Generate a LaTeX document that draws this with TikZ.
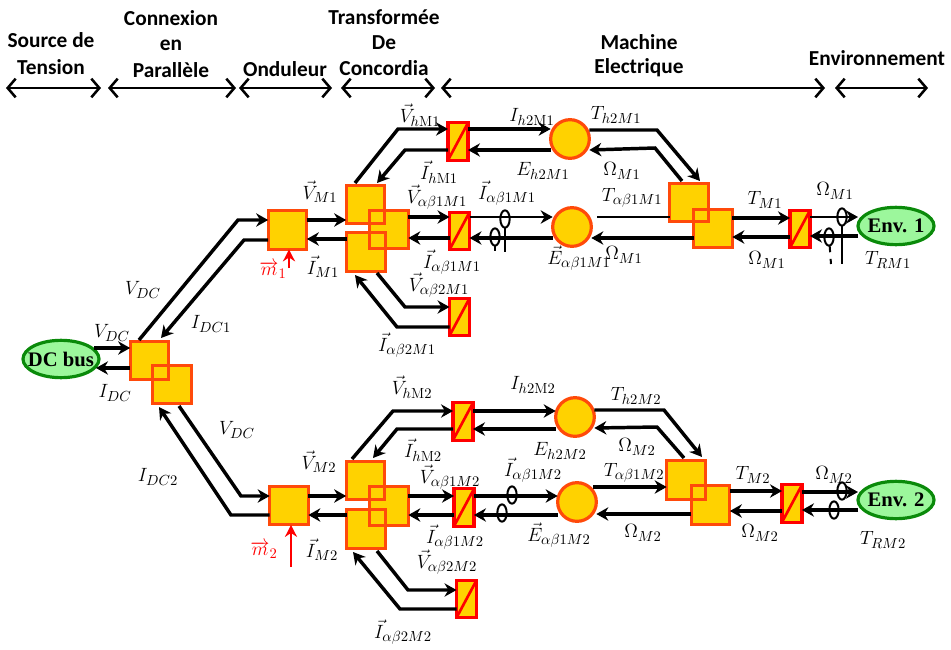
\documentclass[tikz,border=0pt]{standalone}
\usepackage{fontspec}
\usetikzlibrary{arrows.meta,shapes.geometric}
\newfontfamily\headfont{Carlito}
\newfontfamily\envfont{Liberation Serif}
\DeclareMathSizes{14}{14}{11}{9}
\definecolor{boxfill}{HTML}{FFD200}
\definecolor{boxline}{HTML}{FF4A0A}
\definecolor{envfill}{HTML}{9CF79C}
\definecolor{envline}{HTML}{0A8A0A}
\tikzset{
  x=0.75pt,y=-0.75pt,
  sq/.style={draw=boxline,fill=boxfill,line width=2.4pt,minimum width=29pt,minimum height=29pt,inner sep=0,outer sep=0},
  conv/.style={draw=red,fill=boxfill,line width=2.4pt,minimum width=15pt,minimum height=28pt,inner sep=0,outer sep=0},
  slash/.style={draw=red,line width=2pt},
  rond/.style={circle,draw=boxline,fill=boxfill,line width=2.4pt,minimum size=29pt,inner sep=0,outer sep=0},
  env/.style={ellipse,draw=envline,fill=envfill,line width=2.4pt,minimum width=57pt,minimum height=28pt,inner xsep=-5.5pt,inner ysep=0pt,outer sep=0,font=\envfont\bfseries\fontsize{15.5}{17}\selectfont},
  sens/.style={ellipse,draw=black,line width=1.5pt,minimum width=7pt,minimum height=13pt,inner sep=0,outer sep=0},
  sline/.style={black,line width=1.5pt},
  fl/.style={black,line width=2.6pt,-{Stealth[length=9pt,width=10pt]},line join=miter},
  thin fl/.style={black,line width=1.9pt,-{Stealth[length=9pt,width=10pt]}},
  redfl/.style={red,line width=1.6pt,-{Stealth[length=9pt,width=9pt]}},
  span/.style={black,line width=1.9pt,{Straight Barb[length=6pt,width=14pt,line width=1.9pt]}-{Straight Barb[length=6pt,width=14pt,line width=1.9pt]}},
  head/.style={font=\headfont\bfseries\fontsize{16}{18}\selectfont,inner sep=0},
  lab/.style={font=\fontsize{14}{16}\selectfont,inner sep=0},
  rlab/.style={lab,text=red},
}
\begin{document}
\begin{tikzpicture}
\useasboundingbox (0,0) rectangle (951,650);
% headers
\node[head] (h1a) at (51,40) {Source de};
\node[head] (h1b) at (51,67) {Tension};
\node[head] (h2a) at (171,18) {Connexion};
\node[head] (h2b) at (171,45) {en};
\node[head] (h2c) at (171,70) {Parallèle};
\node[head] (h3) at (285,69) {Onduleur};
\node[head] (h4a) at (384,17) {Transformée};
\node[head] (h4b) at (384,43) {De};
\node[head] (h4c) at (384,68) {Concordia};
\node[head] (h5a) at (639,42) {Machine};
\node[head] (h5b) at (639,68) {Electrique};
\node[head] (h6) at (877,58) {Environnement};
\coordinate (a1) at (6,88);\coordinate (a2) at (101,88);
\coordinate (b1) at (108,88);\coordinate (b2) at (236,88);
\coordinate (c1) at (239,88);\coordinate (c2) at (332,88);
\coordinate (d1) at (341,88);\coordinate (d2) at (435,88);
\coordinate (e1) at (441,88);\coordinate (e2) at (825,88);
\coordinate (f1) at (835,88);\coordinate (f2) at (928,88);
\draw[span] (a1)--(a2);\draw[span] (b1)--(b2);\draw[span] (c1)--(c2);
\draw[span] (d1)--(d2);\draw[span] (e1)--(e2);\draw[span] (f1)--(f2);
% nodes
\node[env] (dc) at (61,359) {DC bus};
\node[sq] (P) at (149.5,360.5) {};
\node[sq] (Q) at (172,384.5) {};
\draw[boxline,line width=2.4pt] (P.north west) rectangle (P.south east);
\node[sq] (inv1) at (287.5,230) {};
\node[sq] (inv2) at (289,505.5) {};
% upper group
\node[sq] (A1) at (365.5,204.5) {};
\node[sq] (C1) at (366,252) {};
\node[sq] (B1) at (389,229.5) {};
\draw[boxline,line width=2.4pt] (A1.north west) rectangle (A1.south east);
\draw[boxline,line width=2.4pt] (C1.north west) rectangle (C1.south east);
\node[conv] (ch1) at (458,141.5) {};
\node[conv] (ca1) at (459.5,231) {};
\node[conv] (cb1) at (459.5,317) {};
\node[rond] (o1) at (570,139) {};
\node[rond] (o2) at (572,227) {};
\node[sq] (D1) at (689,202.5) {};
\node[sq] (E1) at (713,228.5) {};
\draw[boxline,line width=2.4pt] (D1.north west) rectangle (D1.south east);
\node[conv] (cm1) at (800,229) {};
\node[env] (env1) at (896,226) {Env. 1};
% lower group
\node[sq] (A2) at (365.5,480.5) {};
\node[sq] (C2) at (366,529) {};
\node[sq] (B2) at (389,506) {};
\draw[boxline,line width=2.4pt] (A2.north west) rectangle (A2.south east);
\draw[boxline,line width=2.4pt] (C2.north west) rectangle (C2.south east);
\node[conv] (ch2) at (463,421.5) {};
\node[conv] (ca2) at (464,507.5) {};
\node[conv] (cb2) at (466.5,599) {};
\node[rond] (o3) at (575,417) {};
\node[rond] (o4) at (577,502) {};
\node[sq] (D2) at (686,480) {};
\node[sq] (E2) at (710.5,505) {};
\draw[boxline,line width=2.4pt] (D2.north west) rectangle (D2.south east);
\node[conv] (cm2) at (792,503.5) {};
\node[env] (env2) at (896,500) {Env. 2};
% slashes
\foreach \n in {ch1,ca1,cb1,cm1,ch2,ca2,cb2,cm2}{\draw[slash] (\n.south west)--(\n.north east);}
% DC side
\draw[fl] (94,348)--(P.west |- 0,348);
\draw[fl] (P.west |- 0,368)--(96,368);
\coordinate (k1) at (238,220);\coordinate (k2) at (244,240);
\coordinate (k3) at (241,496);\coordinate (k4) at (231,515);
\draw[fl] (139,340)--(k1)--(inv1.west |- 0,220);
\draw[fl] (inv1.west |- 0,240)--(k2)--(161,338);
\draw[fl] (179,406)--(k3)--(inv2.west |- 0,496);
\draw[fl] (inv2.west |- 0,515)--(k4)--(159,407);
\draw[fl] (inv1.east |- 0,220)--(A1.west |- 0,220);
\draw[fl] (C1.west |- 0,239)--(inv1.east |- 0,239);
\draw[fl] (inv2.east |- 0,496)--(A2.west |- 0,496);
\draw[fl] (C2.west |- 0,515)--(inv2.east |- 0,515);
\coordinate (m1s) at (289,268);\coordinate (m2s) at (291,567);
\draw[redfl] (m1s)--(inv1.south -| m1s);
\draw[redfl] (m2s)--(inv2.south -| m2s);
% transform -> converters, upper
\coordinate (u1) at (398,129);\coordinate (u2) at (405,150);\coordinate (u3) at (405,307);\coordinate (u4) at (397,327);
\draw[fl] (355,183)--(u1)--(ch1.west |- 0,129);
\draw[fl] (ch1.west |- 0,150)--(u2)--(377,183);
\draw[fl] (377,273)--(u3)--(cb1.west |- 0,307);
\draw[fl] (cb1.west |- 0,327)--(u4)--(355,275);
\draw[fl] (B1.east |- 0,217)--(ca1.west |- 0,217);
\draw[fl] (ca1.west |- 0,238)--(B1.east |- 0,238);
\draw[fl] (ch1.east |- 0,129)--(o1.west |- 0,129);
\draw[fl] (o1.west |- 0,150)--(ch1.east |- 0,150);
\draw[thin fl] (ca1.east |- 0,217)--(o2.west |- 0,217);
\draw[fl] (o2.west |- 0,238)--(ca1.east |- 0,238);
% circles -> machine, upper
\coordinate (u5) at (657,130);\coordinate (u6) at (655,148);
\draw[fl] (o1.east |- 0,130)--(u5)--(700,181);
\draw[fl] (682,181)--(u6)--(o1.east |- 0,150);
\coordinate (u7) at (597,217);
\draw[thin fl,-] (u7)--(D1.west |- 0,217);
\draw[fl] (E1.west |- 0,238)--(o2.east |- 0,238);
\draw[fl] (E1.east |- 0,218)--(cm1.west |- 0,218);
\draw[fl] (cm1.west |- 0,237)--(E1.east |- 0,237);
\draw[thin fl] (cm1.east |- 0,217)--(env1.west |- 0,217);
\draw[fl] (env1.west |- 0,236)--(cm1.east |- 0,236);
% sensors upper
\node[sens] (s1) at (505,219) {};\coordinate (s1e) at (505,252);\draw[sline] (s1)--(s1e);
\node[sens] (s2) at (495,237) {};\coordinate (s2e) at (495,251);\draw[sline] (s2)--(s2e);
\node[sens] (s3) at (842,217) {};\coordinate (s3e) at (842,264);\draw[sline] (s3)--(s3e);
\node[sens] (s4) at (829,237) {};\coordinate (s4e) at (831,264);\draw[sline,dash pattern=on 5pt off 5pt] (s4)--(s4e);
% lower
\coordinate (v1) at (393,411);\coordinate (v2) at (397,429);\coordinate (v3) at (408,590);\coordinate (v4) at (400,609);
\draw[fl] (352,459)--(v1)--(ch2.west |- 0,411);
\draw[fl] (ch2.west |- 0,429)--(v2)--(373,458);
\draw[fl] (377,551)--(v3)--(cb2.west |- 0,590);
\draw[fl] (cb2.west |- 0,609)--(v4)--(353,552);
\draw[fl] (B2.east |- 0,496)--(ca2.west |- 0,496);
\draw[fl] (ca2.west |- 0,515)--(B2.east |- 0,515);
\draw[fl] (ch2.east |- 0,411)--(o3.west |- 0,411);
\draw[fl] (o3.west |- 0,429)--(ch2.east |- 0,429);
\draw[fl] (ca2.east |- 0,496)--(o4.west |- 0,496);
\draw[fl] (o4.west |- 0,515)--(ca2.east |- 0,515);
\coordinate (v5) at (664,410);\coordinate (v6) at (657,427);
\draw[fl] (o3.east |- 0,410)--(v5)--(702,457);
\draw[fl] (684,458)--(v6)--(o3.east |- 0,428);
\coordinate (v7) at (593,487);
\draw[fl] (v7)--(D2.west |- 0,487);
\draw[fl] (E2.west |- 0,514)--(o4.east |- 0,514);
\draw[fl] (E2.east |- 0,491)--(cm2.west |- 0,491);
\draw[fl] (cm2.west |- 0,511)--(E2.east |- 0,511);
\draw[fl] (cm2.east |- 0,492)--(env2.west |- 0,492);
\draw[fl] (env2.west |- 0,510)--(cm2.east |- 0,510);
\node[sens] (s5) at (512,495) {};
\node[sens] (s6) at (502,513) {};
\node[sens] (s7) at (842,491) {};
\node[sens] (s8) at (834,510) {};
% labels DC and inverter
\node[lab] (l01) at (143,290) {$V_{DC}$};
\node[lab] (l02) at (211,324) {$I_{DC1}$};
\node[lab] (l03) at (112,333) {$V_{DC}$};
\node[lab] (l04) at (115,393) {$I_{DC}$};
\node[lab] (l05) at (237,430) {$V_{DC}$};
\node[lab] (l06) at (158,477) {$I_{DC2}$};
\node[lab] (l07) at (320,192) {$\vec{V}_{M1}$};
\node[lab] (l08) at (323,267) {$\vec{I}_{M1}$};
\node[rlab] (l09) at (273,270) {$\overrightarrow{m}_1$};
\node[lab] (l10) at (319,462) {$\vec{V}_{M2}$};
\node[lab] (l11) at (322,550) {$\vec{I}_{M2}$};
\node[rlab] (l12) at (264,550) {$\overrightarrow{m}_2$};
% labels upper
\node[lab] (l20) at (420,115) {$\vec{V}_{h\mathrm{M}1}$};
\node[lab] (l21) at (532,117) {$I_{h2\mathrm{M}1}$};
\node[lab] (l22) at (616,115) {$T_{h2M1}$};
\node[lab] (l23) at (543,171) {$E_{h2M1}$};
\node[lab] (l24) at (622,171) {$\Omega_{M1}$};
\node[lab] (l25) at (439,172) {$\vec{I}_{h\mathrm{M}1}$};
\node[lab] (l26) at (437,197) {$\vec{V}_{\alpha\beta1M1}$};
\node[lab] (l27) at (507,193) {$\vec{I}_{\alpha\beta1M1}$};
\node[lab] (l28) at (632,198) {$T_{\alpha\beta1M1}$};
\node[lab] (l29) at (579,258) {$\vec{E}_{\alpha\beta1M1}$};
\node[lab] (l30) at (624,255) {$\Omega_{M1}$};
\node[lab] (l31) at (452,262) {$\vec{I}_{\alpha\beta1M1}$};
\node[lab] (l32) at (439,285) {$\vec{V}_{\alpha\beta2M1}$};
\node[lab] (l33) at (407,345) {$\vec{I}_{\alpha\beta2M1}$};
\node[lab] (l34) at (765,200) {$T_{M1}$};
\node[lab] (l35) at (835,191) {$\Omega_{M1}$};
\node[lab] (l36) at (767,260) {$\Omega_{M1}$};
\node[lab] (l37) at (888,260) {$T_{RM1}$};
% labels lower
\node[lab] (l40) at (412,387) {$\vec{V}_{h\mathrm{M}2}$};
\node[lab] (l41) at (533,385) {$I_{h2\mathrm{M}2}$};
\node[lab] (l42) at (636,396) {$T_{h2M2}$};
\node[lab] (l43) at (560,451) {$E_{h2M2}$};
\node[lab] (l44) at (637,447) {$\Omega_{M2}$};
\node[lab] (l45) at (423,450) {$\vec{I}_{h\mathrm{M}2}$};
\node[lab] (l46) at (450,477) {$\vec{V}_{\alpha\beta1M2}$};
\node[lab] (l47) at (533,470) {$\vec{I}_{\alpha\beta1M2}$};
\node[lab] (l48) at (634,473) {$T_{\alpha\beta1M2}$};
\node[lab] (l49) at (559,535) {$\vec{E}_{\alpha\beta1M2}$};
\node[lab] (l50) at (643,533) {$\Omega_{M2}$};
\node[lab] (l51) at (455,537) {$\vec{I}_{\alpha\beta1M2}$};
\node[lab] (l52) at (447,562) {$\vec{V}_{\alpha\beta2M2}$};
\node[lab] (l53) at (403,632) {$\vec{I}_{\alpha\beta2M2}$};
\node[lab] (l54) at (753,475) {$T_{M2}$};
\node[lab] (l55) at (834,475) {$\Omega_{M2}$};
\node[lab] (l56) at (760,533) {$\Omega_{M2}$};
\node[lab] (l57) at (883,540) {$T_{RM2}$};
\end{tikzpicture}
\end{document}
